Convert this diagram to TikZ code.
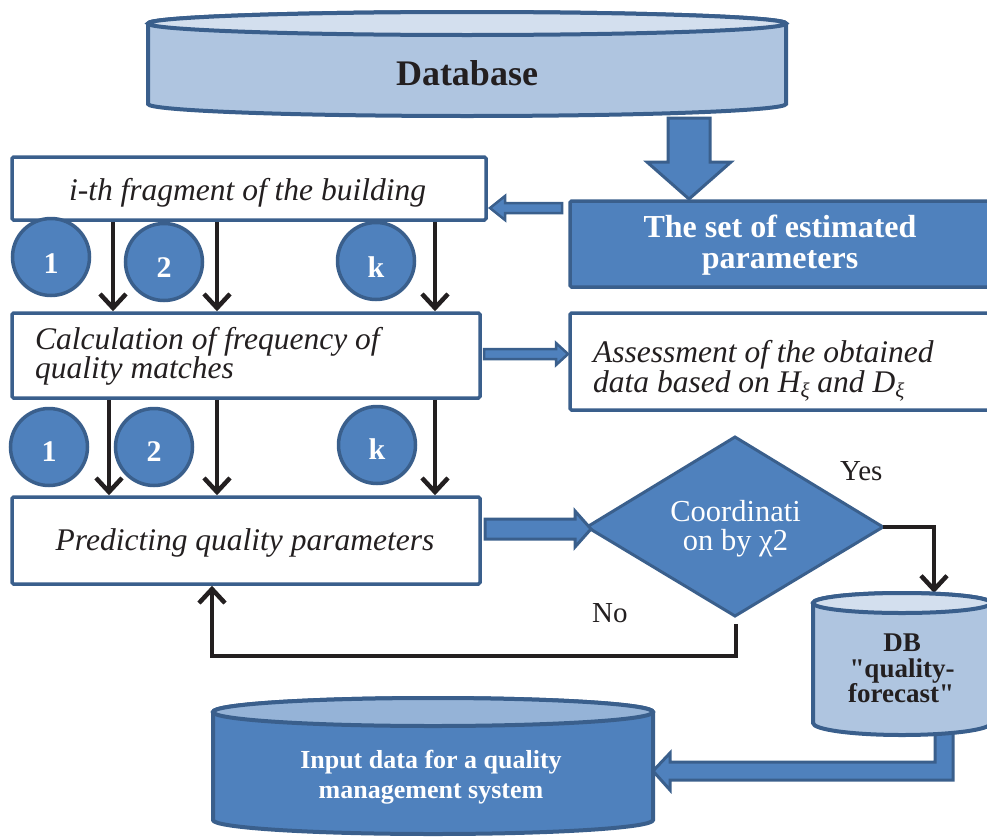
\documentclass[tikz,border=0pt]{standalone}
\usepackage{fontspec}
\setmainfont{Liberation Serif}
\newfontfamily\plainserif{Liberation Serif}
\usetikzlibrary{arrows.meta,calc}
\definecolor{bdr}{HTML}{3A5F8C}
\definecolor{acc}{HTML}{4F81BD}
\definecolor{lite}{HTML}{AFC5E0}
\definecolor{litetop}{HTML}{D3DFEE}
\definecolor{midtop}{HTML}{95B3D7}
\definecolor{ink}{HTML}{231F20}
\newcommand{\fsz}[1]{\fontsize{#1pt}{#1pt}\selectfont}
\newcommand{\xisub}{\raisebox{-5pt}{\fsz{21}ξ}}
\begin{document}
\begin{tikzpicture}[x=1pt,y=-1pt,
  box/.style={draw=bdr,line width=3.5pt,rounded corners=1.5pt,inner sep=0pt},
  wbox/.style={box,fill=white},
  bbox/.style={box,fill=acc},
  num/.style={circle,draw=bdr,fill=acc,line width=3.5pt,minimum size=77pt,inner sep=0pt},
  numt/.style={inner sep=0pt,text=white,font=\fsz{30}\bfseries,anchor=base},
  blk/.style={draw=ink,line width=4.5pt,-{Straight Barb[length=14pt,width=26pt]}},
  blkarrow/.style={fill=acc,draw=bdr,line width=3pt,line join=miter},
  itx/.style={font=\fsz{31.5}\itshape,text=ink,inner sep=0pt},
  lbl/.style={inner sep=0pt,text=ink},
  cyl/.style={draw=bdr,line width=4pt},
]
\useasboundingbox (0,0) rectangle (987,838);

% ---- Database cylinder
\filldraw[cyl,fill=lite] (148,23.5) -- (148,104) arc[start angle=180,end angle=360,x radius=319pt,y radius=12pt] -- (786,23.5) arc[start angle=0,end angle=180,x radius=319pt,y radius=11.5pt] -- cycle;
\filldraw[cyl,fill=litetop] (467,23.5) ellipse[x radius=319pt,y radius=11.5pt];
\node[lbl,font=\fsz{36}\bfseries,anchor=base] (dbt) at (467,85) {Database};

% ---- big down block arrow
\filldraw[blkarrow] (668,118) -- (710,118) -- (710,162) -- (731,162) -- (689,199) -- (647,162) -- (668,162) -- cycle;

% ---- set of estimated parameters
\node[bbox,minimum width=430pt,minimum height=86pt] (setp) at (785,244) {};
\node[lbl,text=white,font=\fsz{32}\bfseries,anchor=base] (setp1) at (780,237) {The set of estimated};
\node[lbl,text=white,font=\fsz{32}\bfseries,anchor=base] (setp2) at (780,268) {parameters};

% ---- small left block arrow
\filldraw[blkarrow,line width=2.5pt] (562,203) -- (505,203) -- (505,196) -- (490,208) -- (505,220) -- (505,213) -- (562,213) -- cycle;

% ---- i-th fragment
\node[wbox,minimum width=474pt,minimum height=63pt] (frag) at (249,188.5) {};
\node[itx,anchor=base] (fragt) at (247.5,200) {i-th fragment of the building};

% ---- calculation box
\node[wbox,minimum width=468pt,minimum height=85pt] (calc) at (246,355.5) {};
\node[itx,anchor=base west] (calc1) at (35,349) {Calculation of frequency of};
\node[itx,anchor=base west] (calc2) at (35,378) {quality matches};

% ---- circles row 1
\node[num] (c1) at (51,257) {};
\node[num] (c2) at (164,262) {};
\node[num] (ck) at (376,261) {};
\node[numt] (c1t) at ($(c1)+(0,16)$) {1};
\node[numt] (c2t) at ($(c2)+(0,15)$) {2};
\node[numt] (ckt) at ($(ck)+(0,16)$) {k};

\coordinate (ax1) at (113,0);
\coordinate (ax2) at (217,0);
\coordinate (ax3) at (435,0);
\draw[blk] (frag.south -| ax1) -- (calc.north -| ax1);
\draw[blk] (frag.south -| ax2) -- (calc.north -| ax2);
\draw[blk] (frag.south -| ax3) -- (calc.north -| ax3);

% ---- small right block arrow
\filldraw[blkarrow,line width=2.5pt] (484,349) -- (556,349) -- (556,343) -- (568,354) -- (556,365) -- (556,359) -- (484,359) -- cycle;

% ---- assessment box
\node[wbox,minimum width=430pt,minimum height=97pt] (assess) at (785,361.5) {};
\node[itx,anchor=base west] (as1) at (593,362) {Assessment of the obtained};
\node[itx,anchor=base west] (as2) at (593,392) {data based on H\xisub\ and D\xisub};

% ---- prediction box
\node[wbox,minimum width=468pt,minimum height=87pt] (pred) at (246,540.5) {};
\node[itx,anchor=base] (predt) at (245,550) {Predicting quality parameters};

% ---- circles row 2
\node[num] (d1) at (49,447) {};
\node[num] (d2) at (154,447) {};
\node[num] (dk) at (377,445) {};
\node[numt] (d1t) at ($(d1)+(0,14)$) {1};
\node[numt] (d2t) at ($(d2)+(0,14)$) {2};
\node[numt] (dkt) at ($(dk)+(0,14)$) {k};

\coordinate (bx1) at (109,0);
\coordinate (bx2) at (217,0);
\coordinate (bx3) at (435,0);
\draw[blk] (calc.south -| bx1) -- (pred.north -| bx1);
\draw[blk] (calc.south -| bx2) -- (pred.north -| bx2);
\draw[blk] (calc.south -| bx3) -- (pred.north -| bx3);

% ---- diamond
\coordinate (dL) at (587,527);
\coordinate (dT) at (735,437);
\coordinate (dR) at (883,527);
\coordinate (dB) at (735,616);
\filldraw[fill=acc,draw=bdr,line width=3pt,line join=miter] (dL) -- (dT) -- (dR) -- (dB) -- cycle;
\node[lbl,text=white,font=\fsz{30.5},anchor=base] (dia1) at (735.5,521) {Coordinati};
\node[lbl,text=white,font=\fsz{30.5},anchor=base] (dia2) at (735.5,550) {on by χ2};

% ---- big right block arrow
\filldraw[blkarrow] (485,519) -- (575,519) -- (575,511) -- (591,529) -- (575,547) -- (575,539) -- (485,539) -- cycle;

% ---- yes / no
\node[lbl,font=\fsz{29},anchor=base west] (yes) at (840,480) {Yes};
\node[lbl,font=\fsz{29},anchor=base west] (no) at (592,622) {No};

\coordinate (nost) at (736,624);
\coordinate (lpc) at (212,656);
\draw[blk] (nost) |- (lpc) -- (pred.south -| lpc);

\coordinate (fctop) at (934,593);
\draw[blk] (dR) -| (fctop);

% ---- elbow block arrow
\filldraw[blkarrow] (653,771) -- (670,753) -- (670,762) -- (935,762) -- (935,725) -- (953,725) -- (953,780) -- (670,780) -- (670,790) -- cycle;

% ---- DB quality-forecast cylinder
\filldraw[cyl,fill=lite] (813,603) -- (813,723) arc[start angle=180,end angle=360,x radius=89pt,y radius=12pt] -- (991,603) arc[start angle=0,end angle=180,x radius=89pt,y radius=10pt] -- cycle;
\filldraw[cyl,fill=litetop] (902,603) ellipse[x radius=89pt,y radius=10pt];
\node[lbl,font=\plainserif\fsz{27}\bfseries,anchor=base] (fc1) at (902,651) {DB};
\node[lbl,font=\plainserif\fsz{27}\bfseries,anchor=base] (fc2) at (902,677) {"quality-};
\node[lbl,font=\plainserif\fsz{27}\bfseries,anchor=base] (fc3) at (901,702) {forecast"};

% ---- input data cylinder
\filldraw[cyl,fill=acc] (213,712) -- (213,820) arc[start angle=180,end angle=360,x radius=220pt,y radius=14pt] -- (653,712) arc[start angle=0,end angle=180,x radius=220pt,y radius=14pt] -- cycle;
\filldraw[cyl,fill=midtop] (433,712) ellipse[x radius=220pt,y radius=14pt];
\node[lbl,text=white,font=\fsz{26}\bfseries,anchor=base] (in1) at (431,768) {Input data for a quality};
\node[lbl,text=white,font=\fsz{26}\bfseries,anchor=base] (in2) at (431,798) {management system};
\end{tikzpicture}
\end{document}
